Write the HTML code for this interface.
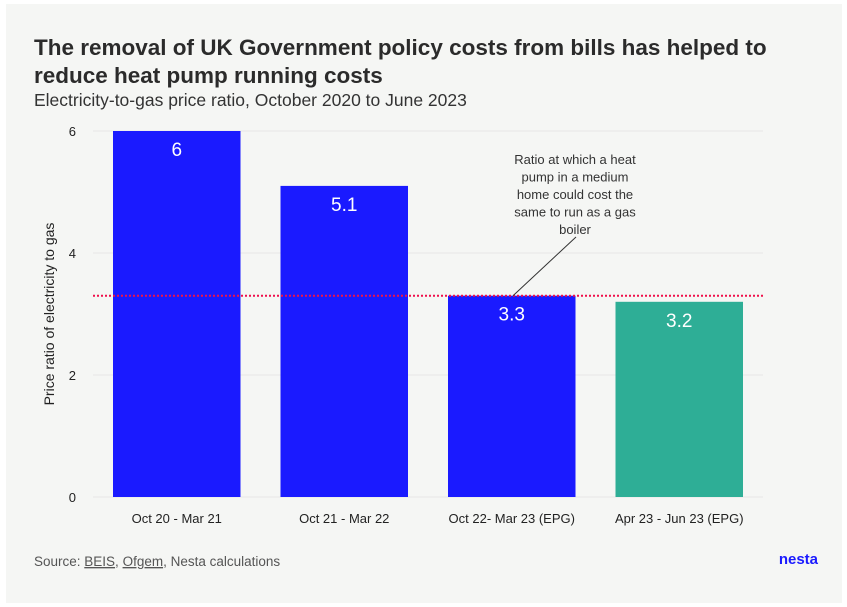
<!DOCTYPE html>
<html><head><meta charset="utf-8"><style>
body{margin:0;background:#fff;font-family:"Liberation Sans",sans-serif;}
#card{position:absolute;left:6px;top:4px;width:836px;height:599px;background:#f5f6f4;}
</style></head><body>
<div id="card"></div>
<svg id="c" width="847" height="607" style="position:absolute;left:0;top:0">
<text x="34" y="55" font-size="22.5" font-weight="bold" fill="#2b2b2b">The removal of UK Government policy costs from bills has helped to</text>
<text x="34" y="83" font-size="22.5" font-weight="bold" fill="#2b2b2b">reduce heat pump running costs</text>
<text x="34" y="106" font-size="17.5" fill="#333">Electricity-to-gas price ratio, October 2020 to June 2023</text>
<text transform="translate(54,314) rotate(-90)" text-anchor="middle" font-size="14" fill="#222">Price ratio of electricity to gas</text>
<text x="34" y="566" font-size="13.5" fill="#555">Source: <tspan text-decoration="underline">BEIS</tspan>, <tspan text-decoration="underline">Ofgem</tspan>, Nesta calculations</text>
<text x="818" y="564" text-anchor="end" font-size="15" font-weight="bold" fill="#1a1aff">nesta</text>
<g id="plot"></g>
</svg>
<script>
const categories=["Oct 20 - Mar 21","Oct 21 - Mar 22","Oct 22- Mar 23 (EPG)","Apr 23 - Jun 23 (EPG)"];
const values=[6,5.1,3.3,3.2];
const labels=["6","5.1","3.3","3.2"];
const colors=["#1a1aff","#1a1aff","#1a1aff","#2eae96"];
const yTicks=[0,2,4,6];
const threshold=3.3;
const NS="http://www.w3.org/2000/svg";
const g=document.getElementById('plot');
const x0=93,x1=763,y0=497,yTop=131;
const y=v=>y0-(v/6)*(y0-yTop);
const band=(x1-x0)/categories.length;
const bx=i=>x0+i*band+20;
const bw=band-40;
function mk(t,a){const e=document.createElementNS(NS,t);for(const k in a)e.setAttribute(k,a[k]);g.appendChild(e);return e;}
yTicks.forEach(t=>{
 const l=mk('line',{x1:x0,x2:x1,y1:y(t),y2:y(t),stroke:'#e6e6e6','stroke-width':1});
 
 
 const tx=mk('text',{x:76,y:y(t)+5,'text-anchor':'end','font-size':13,fill:'#222'});
 tx.textContent=t;
 
 
});
values.forEach((v,i)=>{
 const r=mk('rect',{x:bx(i),y:y(v),width:bw,height:y0-y(v),fill:colors[i]});
 
 
 const t=mk('text',{x:bx(i)+bw/2,y:y(v)+25,'text-anchor':'middle','font-size':19,fill:'#fff'});
 t.textContent=labels[i];
 
 
 const c=mk('text',{x:bx(i)+bw/2,y:523,'text-anchor':'middle','font-size':13,fill:'#222'});
 c.textContent=categories[i];
 
 
});
const th=mk('line',{x1:x0,x2:x1,y1:y(threshold),y2:y(threshold),stroke:'#f0104a','stroke-width':2,'stroke-dasharray':'2,2'});


const ld=mk('line',{x1:576,y1:237,x2:513,y2:y(threshold),stroke:'#333','stroke-width':1});


["Ratio at which a heat","pump in a medium","home could cost the","same to run as a gas","boiler"].forEach((s,i)=>{
 const t=mk('text',{x:575,y:164+i*17.5,'text-anchor':'middle','font-size':13,fill:'#333'});
 t.textContent=s;
 
 
});
</script>
</body></html>
